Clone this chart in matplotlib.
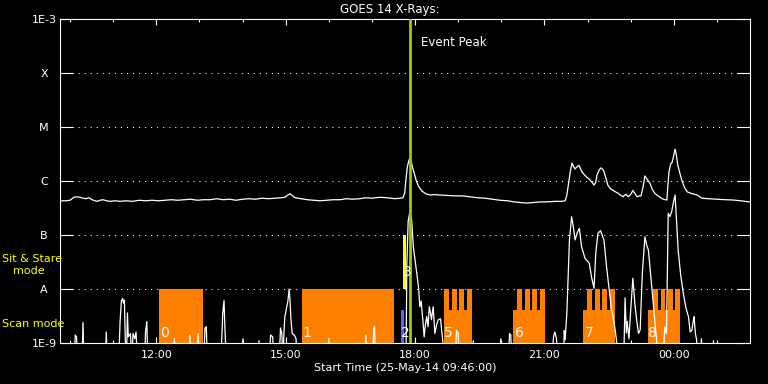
import matplotlib
matplotlib.use('Agg')
import matplotlib.pyplot as plt
import matplotlib.transforms as mtransforms
from matplotlib.ticker import NullLocator

plt.rcParams['lines.scale_dashes'] = False

# ---------------- data ----------------
# time in hours since 00:00 on 25-May-2014 (values above 24 are on 26-May)
t_start = 9.7667     # 09:46
t_end = 25.7667      # 01:46
event_peak = 17.883  # 17:53

goes_levels = [1e-9, 1e-8, 1e-7, 1e-6, 1e-5, 1e-4, 1e-3]
goes_labels = ['1E-9', 'A', 'B', 'C', 'M', 'X', '1E-3']

xtick_hours = [12, 15, 18, 21, 24]
xtick_labels = ['12:00', '15:00', '18:00', '21:00', '00:00']
minor_hours = list(range(10, 26))

# GOES 14 long channel (1-8 A), W/m^2
long_t = [9.767, 9.90, 9.999, 10.09, 10.16, 10.23, 10.30, 10.37, 10.44, 10.51,
          10.58, 10.62, 10.70, 10.76, 10.85, 10.93, 11.05, 11.16, 11.30, 11.45,
          11.60, 11.75, 11.90, 12.05, 12.20, 12.35, 12.50, 12.65, 12.80, 12.95,
          13.10, 13.25, 13.40, 13.55, 13.70, 13.85, 14.00, 14.15, 14.30, 14.45,
          14.60, 14.75, 14.90, 14.98, 15.05, 15.10, 15.16, 15.22, 15.35, 15.50,
          15.65, 15.80, 15.95, 16.10, 16.26, 16.40, 16.55, 16.72, 16.85, 17.00,
          17.19, 17.35, 17.53, 17.65, 17.72, 17.76, 17.79, 17.82, 17.85, 17.88,
          17.91, 17.94, 17.98, 18.03, 18.08, 18.16, 18.25, 18.35, 18.45, 18.58,
          18.75, 18.93, 19.10, 19.27, 19.45, 19.62, 19.80, 19.97, 20.15, 20.30,
          20.43, 20.60, 20.75, 20.90, 21.05, 21.25, 21.40, 21.48, 21.52, 21.55,
          21.60, 21.64, 21.67, 21.71, 21.76, 21.80, 21.85, 21.89, 21.97, 22.06,
          22.15, 22.19, 22.22, 22.27, 22.31, 22.35, 22.38, 22.43, 22.47, 22.53,
          22.59, 22.65, 22.71, 22.76, 22.82, 22.89, 22.94, 23.00, 23.05, 23.10,
          23.15, 23.20, 23.24, 23.29, 23.33, 23.39, 23.45, 23.50, 23.56, 23.65,
          23.73, 23.80, 23.84, 23.87, 23.89, 23.93, 23.96, 24.00, 24.03, 24.06,
          24.09, 24.14, 24.19, 24.25, 24.31, 24.40, 24.54, 24.65, 24.80, 25.00,
          25.20, 25.37, 25.55, 25.767]
long_flux = [4.3e-7, 4.3e-7, 4.4e-7, 5.0e-7, 5.1e-7, 5.0e-7, 4.8e-7, 4.7e-7, 4.9e-7, 4.5e-7,
             4.3e-7, 4.2e-7, 4.4e-7, 4.5e-7, 4.3e-7, 4.2e-7, 4.3e-7, 4.2e-7, 4.3e-7, 4.2e-7,
             4.4e-7, 4.3e-7, 4.4e-7, 4.3e-7, 4.4e-7, 4.5e-7, 4.4e-7, 4.5e-7, 4.6e-7, 4.4e-7,
             4.5e-7, 4.5e-7, 4.7e-7, 4.5e-7, 4.6e-7, 4.4e-7, 4.6e-7, 4.7e-7, 4.6e-7, 4.8e-7,
             4.7e-7, 4.8e-7, 4.9e-7, 5.0e-7, 5.5e-7, 5.8e-7, 5.3e-7, 4.9e-7, 4.7e-7, 4.5e-7,
             4.4e-7, 4.3e-7, 4.4e-7, 4.5e-7, 4.5e-7, 4.7e-7, 4.6e-7, 4.7e-7, 4.9e-7, 4.8e-7,
             5.0e-7, 4.9e-7, 4.7e-7, 4.8e-7, 4.9e-7, 6.0e-7, 1.1e-6, 1.8e-6, 2.3e-6, 2.7e-6,
             2.3e-6, 1.8e-6, 1.4e-6, 1.0e-6, 8.0e-7, 6.5e-7, 5.8e-7, 5.5e-7, 5.6e-7, 5.5e-7,
             5.4e-7, 5.3e-7, 5.3e-7, 5.1e-7, 4.9e-7, 4.8e-7, 4.6e-7, 4.4e-7, 4.3e-7, 4.1e-7,
             4.0e-7, 3.9e-7, 4.0e-7, 4.1e-7, 4.1e-7, 4.2e-7, 4.2e-7, 4.3e-7, 5.5e-7, 8.0e-7,
             1.5e-6, 2.15e-6, 1.9e-6, 1.67e-6, 1.85e-6, 1.95e-6, 1.6e-6, 1.4e-6, 1.2e-6, 1.04e-6,
             8.4e-7, 9.5e-7, 1.3e-6, 1.6e-6, 1.75e-6, 1.65e-6, 1.5e-6, 1.1e-6, 8.4e-7, 7.2e-7,
             6.7e-7, 6.3e-7, 5.9e-7, 5.5e-7, 5.1e-7, 5.7e-7, 5.1e-7, 5.6e-7, 6.7e-7, 5.8e-7,
             5.1e-7, 5.3e-7, 5.3e-7, 8.0e-7, 1.24e-6, 1.05e-6, 9.0e-7, 7.0e-7, 5.9e-7, 5.2e-7,
             4.7e-7, 4.5e-7, 4.45e-7, 1.0e-6, 1.5e-6, 2.1e-6, 2.2e-6, 3.0e-6, 3.9e-6, 3.0e-6,
             2.0e-6, 1.4e-6, 1.0e-6, 7.5e-7, 6.3e-7, 5.9e-7, 5.5e-7, 4.8e-7, 4.7e-7, 4.6e-7,
             4.5e-7, 4.45e-7, 4.3e-7, 4.1e-7]

# GOES 14 short channel (0.5-4 A), W/m^2 (5e-10 = below plotted range)
short_t = [9.767, 9.79, 10.10, 10.12, 10.15, 10.17, 10.28, 10.30, 10.32, 10.82,
           10.84, 10.86, 11.13, 11.16, 11.19, 11.22, 11.24, 11.26, 11.28, 11.31,
           11.33, 11.35, 11.40, 11.43, 11.46, 11.50, 11.53, 11.56, 11.73, 11.75,
           11.78, 11.80, 12.40, 12.42, 12.44, 12.75, 12.78, 12.80, 12.95, 12.97,
           12.99, 13.10, 13.13, 13.16, 13.18, 13.50, 13.54, 13.57, 13.59, 13.62,
           13.98, 14.01, 14.03, 14.36, 14.38, 14.40, 14.62, 14.65, 14.70, 14.72,
           14.85, 14.88, 14.91, 14.94, 14.96, 14.98, 15.02, 15.05, 15.08, 15.10,
           15.12, 15.15, 15.20, 15.24, 15.26, 15.98, 16.00, 16.02, 16.84, 16.86,
           16.88, 17.02, 17.04, 17.06, 17.08, 17.79, 17.81, 17.84, 17.88, 17.92,
           17.96, 18.02, 18.08, 18.11, 18.14, 18.18, 18.21, 18.24, 18.27, 18.30,
           18.33, 18.36, 18.38, 18.42, 18.46, 18.50, 18.54, 18.59, 18.64, 18.67,
           18.94, 18.96, 19.00, 19.02, 19.33, 19.35, 19.37, 19.97, 19.99, 20.01,
           20.17, 20.19, 20.22, 20.24, 21.18, 21.21, 21.24, 21.28, 21.30, 21.44,
           21.46, 21.48, 21.52, 21.58, 21.63, 21.67, 21.71, 21.76, 21.81, 21.86,
           21.94, 22.04, 22.09, 22.15, 22.19, 22.24, 22.30, 22.38, 22.44, 22.51,
           22.55, 22.59, 22.63, 22.67, 22.70, 22.84, 22.87, 22.90, 22.92, 22.96,
           23.00, 23.05, 23.10, 23.14, 23.18, 23.22, 23.27, 23.33, 23.37, 23.41,
           23.46, 23.51, 23.56, 23.60, 23.65, 23.76, 23.79, 23.83, 23.87, 23.91,
           23.95, 23.99, 24.03, 24.06, 24.10, 24.16, 24.22, 24.28, 24.34, 24.38,
           24.42, 24.45, 24.47, 24.50, 24.53, 24.55, 24.62, 24.64, 24.66, 24.90,
           24.92, 24.94, 25.767]
short_flux = [1.6e-9, 5e-10, 5e-10, 1.4e-9, 1.3e-9, 5e-10, 5e-10, 2.4e-9, 5e-10, 5e-10,
              1.6e-9, 5e-10, 5e-10, 2.5e-9, 6.0e-9, 6.7e-9, 5.5e-9, 6.2e-9, 1.2e-9, 5e-10,
              3.6e-9, 1.3e-9, 1.5e-9, 5e-10, 1.5e-9, 1.2e-9, 1.6e-9, 5e-10, 5e-10, 1.6e-9,
              2.5e-9, 5e-10, 5e-10, 1.2e-9, 5e-10, 5e-10, 1.4e-9, 5e-10, 5e-10, 1.5e-9,
              5e-10, 5e-10, 1.9e-9, 2.0e-9, 5e-10, 5e-10, 3.5e-9, 6.1e-9, 2.0e-9, 5e-10,
              5e-10, 1.2e-9, 5e-10, 5e-10, 1.1e-9, 5e-10, 5e-10, 1.4e-9, 1.3e-9, 5e-10,
              5e-10, 1.9e-9, 1.5e-9, 5e-10, 1.6e-9, 3.0e-9, 4.5e-9, 5.9e-9, 1.0e-8, 6.3e-9,
              2.9e-9, 1.5e-9, 1.4e-9, 1.2e-9, 5e-10, 5e-10, 1.2e-9, 5e-10, 5e-10, 1.4e-9,
              5e-10, 5e-10, 1.8e-9, 2.0e-9, 5e-10, 5e-10, 3.0e-8, 1.8e-7, 2.7e-7, 1.9e-7,
              6.1e-8, 2.6e-8, 1.1e-8, 4.7e-9, 6.0e-9, 2.7e-9, 1.3e-9, 2.2e-9, 3.1e-9, 2.0e-9,
              4.7e-9, 3.5e-9, 2.7e-9, 4.7e-9, 1.5e-9, 2.2e-9, 2.7e-9, 2.8e-9, 1.14e-9, 5e-10,
              5e-10, 1.7e-9, 1.5e-9, 5e-10, 5e-10, 1.1e-9, 5e-10, 5e-10, 1.2e-9, 5e-10,
              5e-10, 1.5e-9, 1.4e-9, 5e-10, 5e-10, 1.3e-9, 1.6e-9, 1.2e-9, 5e-10, 5e-10,
              1.7e-9, 1.14e-9, 3.6e-9, 8.1e-8, 2.18e-7, 1.42e-7, 8.1e-8, 1.1e-7, 1.33e-7, 6.1e-8,
              3.7e-8, 3.0e-8, 1.69e-8, 1.03e-8, 4.6e-8, 1.07e-7, 1.2e-7, 8.1e-8, 2.6e-8, 8.3e-9,
              4.5e-9, 3.1e-9, 2.0e-9, 1.14e-9, 5e-10, 5e-10, 6.9e-9, 1.53e-9, 2.5e-9, 1.2e-9,
              4.0e-9, 1.58e-8, 5.0e-9, 2.67e-9, 1.5e-9, 1.74e-9, 2.0e-8, 9.3e-8, 6.5e-8, 5.3e-8,
              2.0e-8, 7.2e-9, 2.5e-9, 1.14e-9, 5e-10, 5e-10, 1.98e-9, 1.5e-9, 2.52e-7, 2.2e-7,
              2.7e-7, 4.0e-7, 5.5e-7, 2.0e-7, 5.3e-8, 1.8e-8, 8.3e-9, 4.5e-9, 3.07e-9, 1.6e-9,
              1.74e-9, 2.5e-9, 3.07e-9, 1.5e-9, 1.14e-9, 5e-10, 5e-10, 1.2e-9, 5e-10, 5e-10,
              1.1e-9, 5e-10, 5e-10]

# observation intervals (scan mode: full blocks and repeated-raster "comb" blocks)
scan_full_start = [12.062, 15.378]
scan_full_end = [13.083, 17.512]
scan_comb_start = [18.671, 20.270, 21.887, 23.409]
scan_comb_teeth = [18.671, 20.364, 21.994, 23.525]
scan_comb_end = [19.320, 21.013, 22.633, 24.143]
blue_start, blue_end = 17.667, 17.737
sitstare_start, sitstare_end = 17.720, 17.790

obs_labels = ['0', '1', '2', '3', '5', '6', '7', '8']
obs_label_t = [12.085, 15.40, 17.68, 17.72, 18.68, 20.31, 21.94, 23.41]
obs_label_flux = [1.56e-9, 1.56e-9, 1.56e-9, 2.1e-8, 1.56e-9, 1.56e-9, 1.56e-9, 1.56e-9]

# ---------------- style ----------------
ORANGE = '#ff8000'
YELLOW = '#ffff00'
BLUE = '#6060ff'
GREEN = '#9acd00'
comb_split = 4.1e-9
n_teeth = 4
gap_ratio = 0.5

fig = plt.figure(figsize=(7.68, 3.84), dpi=100, facecolor='black')
ax = fig.add_axes([60 / 768, 1 - 343 / 384, 690 / 768, 324 / 384], facecolor='black')
ax.set_yscale('log')
ax.set_xlim(t_start, t_end)
ax.set_ylim(goes_levels[0], goes_levels[-1])

for lev in goes_levels[1:-1]:
    ax.axhline(lev, color='white', lw=0.75, linestyle=(0, (0.75, 3.6)), zorder=1)

for s, e in zip(scan_full_start, scan_full_end):
    ax.fill_between([s, e], goes_levels[0], goes_levels[1], color=ORANGE, lw=0, zorder=2)
for s, ts, e in zip(scan_comb_start, scan_comb_teeth, scan_comb_end):
    ax.fill_between([s, e], goes_levels[0], comb_split, color=ORANGE, lw=0, zorder=2)
    w = (e - ts) / (n_teeth + (n_teeth - 1) * gap_ratio)
    for k in range(n_teeth):
        x0 = ts + k * w * (1 + gap_ratio)
        ax.fill_between([x0, x0 + w], comb_split, goes_levels[1], color=ORANGE, lw=0, zorder=2)
ax.fill_between([blue_start, blue_end], goes_levels[0], comb_split, color=BLUE, lw=0, zorder=2)
ax.fill_between([sitstare_start, sitstare_end], goes_levels[1], goes_levels[2], color=YELLOW, lw=0, zorder=2)

ax.plot(long_t, long_flux, color='white', lw=0.9, zorder=4)
ax.plot(short_t, short_flux, color='white', lw=0.9, zorder=4)

for lab, t, f in zip(obs_labels, obs_label_t, obs_label_flux):
    ax.text(t, f, lab, color='white', fontsize=10, ha='left', va='center', zorder=6)

ax.axvline(event_peak, color=GREEN, lw=2.0, zorder=5)
trans = mtransforms.blended_transform_factory(ax.transData, ax.transAxes)
ax.text(event_peak + 0.26, 0.927, 'Event Peak', transform=trans, color='white',
        fontsize=8.5, ha='left', va='center', zorder=6)

# axes
ax.set_yticks(goes_levels, goes_labels)
ax.yaxis.set_minor_locator(NullLocator())
ax.tick_params(axis='y', which='major', direction='in', length=9.5, width=0.8,
               color='white', labelcolor='white', left=True, right=True,
               labelsize=8, pad=11.5)
for lbl in ax.get_yticklabels():
    lbl.set_horizontalalignment('center')

ax.set_xticks(xtick_hours, xtick_labels)
ax.set_xticks(minor_hours, minor=True)
ax.tick_params(axis='x', which='major', direction='in', length=4.3, width=0.8,
               color='white', labelcolor='white', top=True, bottom=True,
               labelsize=8, pad=5)
ax.tick_params(axis='x', which='minor', direction='in', length=2.2, width=0.8,
               color='white', top=True, bottom=True)
for sp in ax.spines.values():
    sp.set_color('white')
    sp.set_linewidth(0.8)

fig.text(390 / 768, 1 - 9 / 384, 'GOES 14 X-Rays:', ha='center', va='center',
         color='white', fontsize=8.5)
fig.text(405 / 768, 1 - 368 / 384, 'Start Time (25-May-14 09:46:00)', ha='center',
         va='center', color='white', fontsize=8)
fig.text(2 / 768, 1 - 259 / 384, 'Sit & Stare', ha='left', va='center', color=YELLOW, fontsize=8)
fig.text(13 / 768, 1 - 271 / 384, 'mode', ha='left', va='center', color=YELLOW, fontsize=8)
fig.text(2 / 768, 1 - 324 / 384, 'Scan mode', ha='left', va='center', color=YELLOW, fontsize=8)

fig.savefig('out.png', dpi=100, facecolor='black')
